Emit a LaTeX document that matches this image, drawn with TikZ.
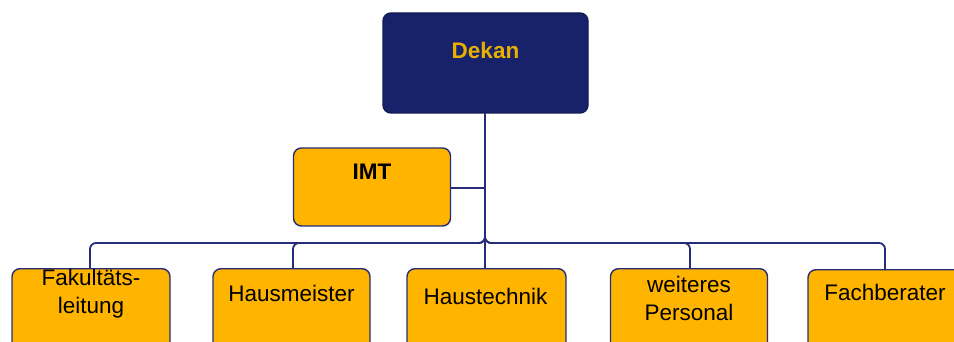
\documentclass[tikz,border=0pt]{standalone}
\usepackage{fontspec}
\setmainfont{Liberation Sans}
\begin{document}
\definecolor{navy}{HTML}{17226A}
\definecolor{navyline}{HTML}{262C78}
\definecolor{gold}{HTML}{E8B000}
\definecolor{amber}{HTML}{FFB400}
\begin{tikzpicture}[x=1pt,y=-1pt,
  box/.style={draw=navyline, line width=1.4pt, rounded corners=8pt, inner sep=0pt},
  headbox/.style={box, fill=navy, draw=navy!80!black},
  unitbox/.style={box, fill=amber},
  lbl/.style={font=\fontsize{22.5}{28}\selectfont, align=center, inner sep=0pt},
  link/.style={draw=navyline, line width=1.8pt, rounded corners=6pt}]
\useasboundingbox (0,0) rectangle (954,342);
\clip (0,0) rectangle (954,342);
\fill[white] (0,0) rectangle (954,342);

% head
\node[headbox, minimum width=205pt, minimum height=100pt] (dekan) at (485.5,63) {};
\node[lbl, font=\fontsize{22.5}{28}\selectfont\bfseries, text=gold] (dekant) at (485.5,50) {Dekan};

% staff unit
\node[unitbox, minimum width=157pt, minimum height=78pt] (imt) at (372,187) {};
\node[lbl, font=\fontsize{22.5}{28}\selectfont\bfseries] (imtt) at (372,172) {IMT};

% bottom row (boxes run past the lower edge)
\node[unitbox, anchor=north, minimum width=158pt, minimum height=100pt] (b1) at (91,268) {};
\node[unitbox, anchor=north, minimum width=157pt, minimum height=100pt] (b2) at (291.5,268) {};
\node[unitbox, anchor=north, minimum width=159pt, minimum height=100pt] (b3) at (486.5,268) {};
\node[unitbox, anchor=north, minimum width=157pt, minimum height=100pt] (b4) at (689,268) {};
\node[unitbox, anchor=north, minimum width=160pt, minimum height=100pt] (b5) at (888,269) {};

\node[lbl] (t1) at (91,294) {Fakultäts-\\leitung};
\node[lbl] (t2) at (291.5,293) {Hausmeister};
\node[lbl] (t3) at (485.5,296) {Haustechnik};
\node[lbl] (t4) at (689,298) {weiteres\\Personal};
\node[lbl] (t5) at (885,292) {Fachberater};

% connectors
\coordinate (bus) at (485,243);
\coordinate (d1) at (90,268);
\coordinate (d2) at (293,268);
\coordinate (d3) at (485,268);
\coordinate (d4) at (690,268);
\coordinate (d5) at (885,270);

\draw[link] (imt.east |- 0,188) -- (485,188);
\draw[link] (dekan.south -| bus) -- (bus) -| (d1);
\draw[link] (dekan.south -| bus) -- (bus) -| (d2);
\draw[link] (dekan.south -| bus) -- (d3);
\draw[link] (dekan.south -| bus) -- (bus) -| (d4);
\draw[link] (dekan.south -| bus) -- (bus) -| (d5);
\end{tikzpicture}
\end{document}
